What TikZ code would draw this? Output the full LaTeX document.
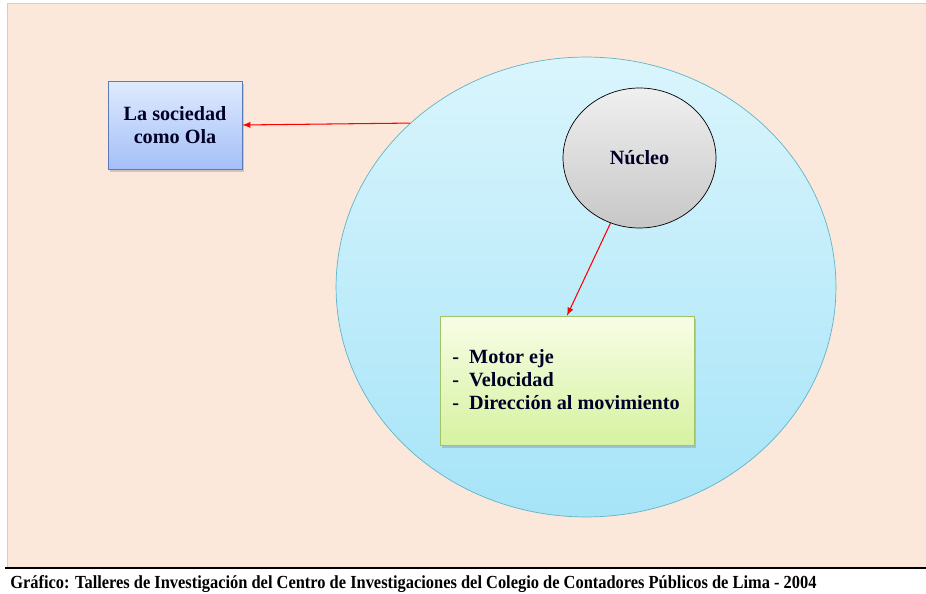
\documentclass[tikz,border=0pt]{standalone}
\usepackage{fontspec}
\setmainfont{Liberation Serif}
\newfontfamily\capfont[FakeStretch=0.89]{Liberation Serif}
\usetikzlibrary{shapes.geometric, shadows}
\definecolor{peach}{HTML}{FCE8DA}
\definecolor{frameblue}{HTML}{C8D0E0}
\definecolor{olatop}{HTML}{DAF5FC}
\definecolor{olabot}{HTML}{A6E4F8}
\definecolor{olaline}{HTML}{62B4C6}
\definecolor{cajatop}{HTML}{DFEAFD}
\definecolor{cajabot}{HTML}{A4C0F8}
\definecolor{cajaline}{HTML}{5A7AB8}
\definecolor{verdetop}{HTML}{F8FDE6}
\definecolor{verdebot}{HTML}{D6F2A0}
\definecolor{verdeline}{HTML}{A0C466}
\begin{document}
\begin{tikzpicture}[x=0.02cm, y=-0.02cm,
	label/.style={font=\fontsize{11.5}{13}\selectfont\bfseries, text=black!85!blue},
	box/.style={draw, thin, drop shadow={opacity=0.35, shadow xshift=1pt, shadow yshift=-1.5pt}},
	flecha/.style={-latex, red, semithick}]
	\useasboundingbox (0,0) rectangle (926,594);
	\fill[white] (0,0) rectangle (926,594);
	\fill[peach] (7,3) rectangle (926,567);
	\draw[frameblue] (7,567)--(7,3)--(926,3);
	\draw[line width=1.2pt] (5,568)--(926,568);
	\node[anchor=base west, inner sep=0, font=\capfont\fontsize{10.5}{12}\selectfont\bfseries] (fuente) at (10,588)
		{Gráfico: Talleres de Investigación del Centro de Investigaciones del Colegio de Contadores Públicos de Lima - 2004};
	% circulos
	\node[ellipse, draw=olaline, top color=olatop, bottom color=olabot, minimum width=10cm, minimum height=9.2cm] (ola) at (586,287) {};
	\node[ellipse, draw, thin, top color=black!6, bottom color=black!22, minimum width=3.06cm, minimum height=2.8cm, label] (nucleo) at (639.5,158) {Núcleo};
	% cajas
	\node[box, draw=cajaline, top color=cajatop, bottom color=cajabot, minimum width=2.68cm, minimum height=1.76cm, align=center, label] (sociedad) at (175,125) {La sociedad\\como Ola};
	\node[box, draw=verdeline, top color=verdetop, bottom color=verdebot, minimum width=5.08cm, minimum height=2.58cm, label] (motor) at (567,380.5) {};
	\node[anchor=north west, align=left, inner sep=0, label] (lista) at (452,349)
		{-\ \ Motor eje\\-\ \ Velocidad\\-\ \ Dirección al movimiento};
	% flechas
	\draw[flecha] (ola.137)--(sociedad.east);
	\draw[flecha] (nucleo.246)--(motor.north);
\end{tikzpicture}
\end{document}
